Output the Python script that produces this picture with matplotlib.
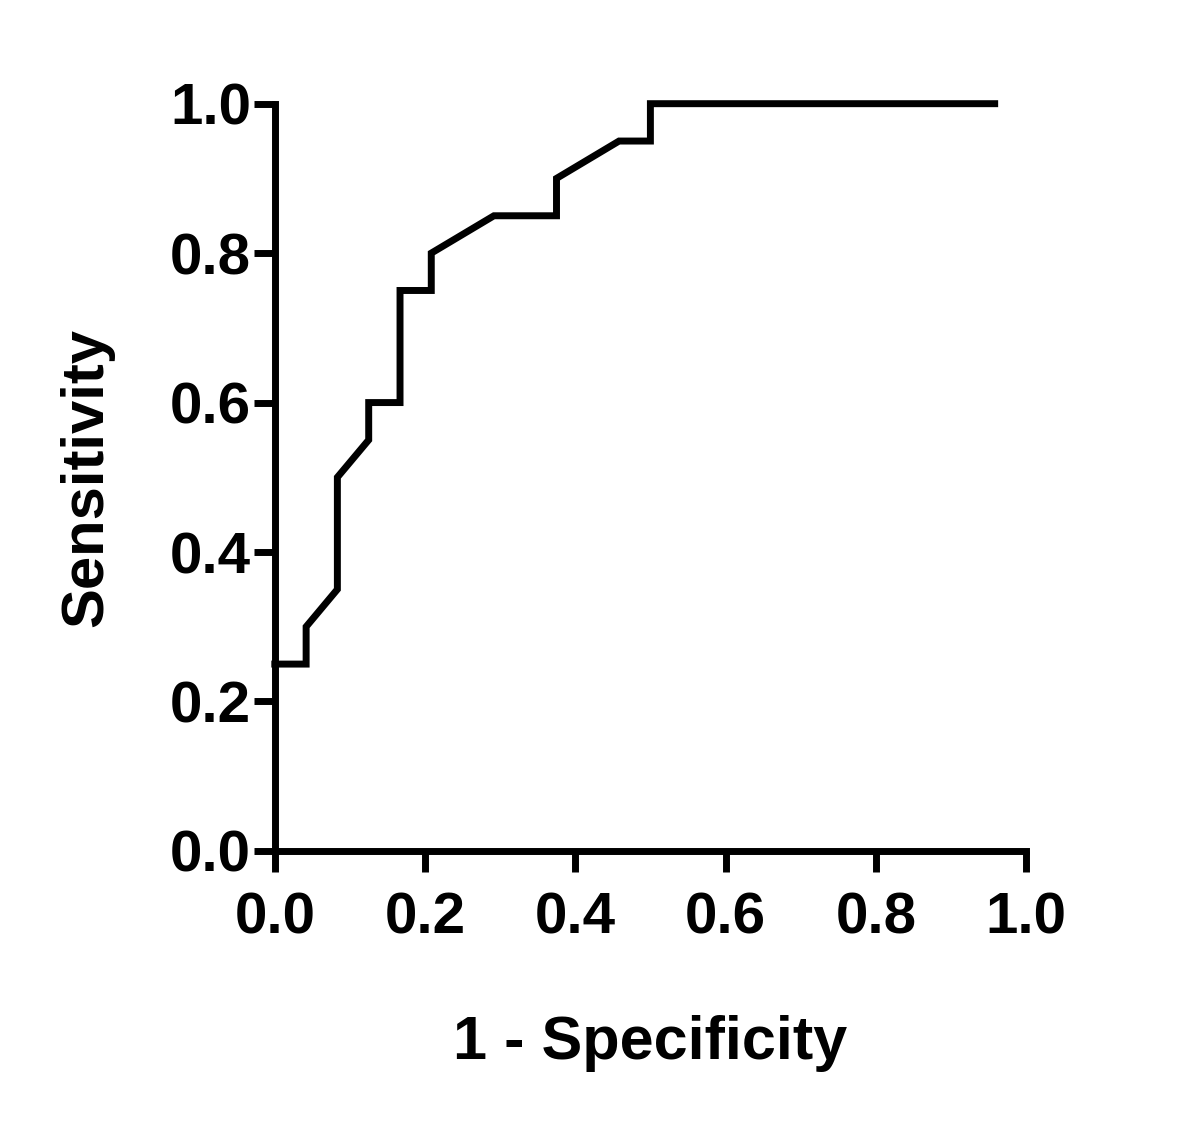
import matplotlib.pyplot as plt

# ROC curve points (1 - specificity, sensitivity)
fpr = [0.0, 0.0417, 0.0417, 0.0833, 0.0833, 0.125, 0.125, 0.1667, 0.1667,
       0.2083, 0.2083, 0.2917, 0.375, 0.375, 0.4583, 0.5, 0.5, 0.9583]
tpr = [0.25, 0.25, 0.30, 0.35, 0.50, 0.55, 0.60, 0.60, 0.75,
       0.75, 0.80, 0.85, 0.85, 0.90, 0.95, 0.95, 1.0, 1.0]
ticks = [0.0, 0.2, 0.4, 0.6, 0.8, 1.0]

plt.rcParams['font.family'] = ['Liberation Sans', 'DejaVu Sans']
plt.rcParams['font.weight'] = 'bold'

fig = plt.figure(figsize=(12, 11.27), dpi=100)
ax = fig.add_axes([0.229, 0.245, 0.626, 0.663])
ax.plot(fpr, tpr, color='black', lw=5, solid_joinstyle='miter', clip_on=False)

ax.set_xlim(0, 1)
ax.set_ylim(0, 1)
ax.set_xticks(ticks)
ax.set_yticks(ticks)
ax.set_xticklabels([f'{t:.1f}' for t in ticks], fontsize=42, fontweight='bold')
ax.set_yticklabels([f'{t:.1f}' for t in ticks], fontsize=42, fontweight='bold')
ax.spines['top'].set_visible(False)
ax.spines['right'].set_visible(False)
for s in ['left', 'bottom']:
    ax.spines[s].set_linewidth(5)
ax.tick_params(width=5, length=15, direction='out')
ax.tick_params(axis='x', pad=14)
ax.tick_params(axis='y', pad=2)

ax.set_xlabel('1 - Specificity', fontsize=44, fontweight='bold', labelpad=50)
ax.set_ylabel('Sensitivity', fontsize=43, fontweight='bold', labelpad=40)

fig.savefig('out.png', dpi=100)
